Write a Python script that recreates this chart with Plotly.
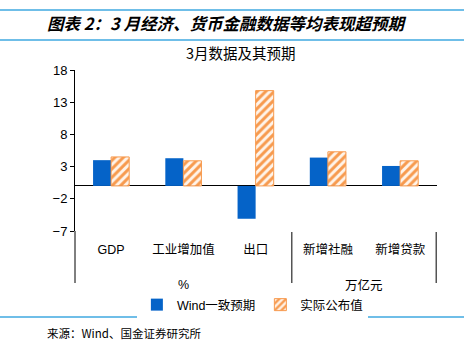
import plotly.graph_objects as go

categories = ["GDP", "工业增加值", "出口", "新增社融", "新增贷款"]
expected = [4.0, 4.3, -5.1, 4.4, 3.1]
actual = [4.5, 3.9, 14.8, 5.3, 3.9]
y_ticks = [-7, -2, 3, 8, 13, 18]
unit_labels = ["%", "万亿元"]
unit_groups = [[0, 1, 2], [3, 4]]

BLUE = "#0563C8"
ORANGE = "#F79A4E"
CJK = "Noto Sans CJK SC"

fig = go.Figure()
fig.add_trace(go.Bar(
    x=categories, y=expected, name="Wind一致预期",
    marker=dict(color=BLUE, line=dict(width=0)),
))
fig.add_trace(go.Bar(
    x=categories, y=actual, name="实际公布值",
    marker=dict(color="#FFE3CC", line=dict(color=ORANGE, width=1),
                pattern=dict(shape="/", fgcolor=ORANGE, bgcolor="#FFF4EA",
                             size=6, solidity=0.5, fillmode="replace")),
))

PW, PH = 362, 161  # plot area size in px

def py(ypix):
    return (231 - ypix) / PH

fig.update_layout(
    width=464, height=340,
    margin=dict(l=75, r=27, t=70, b=109),
    paper_bgcolor="white", plot_bgcolor="white",
    barmode="group", bargap=0.5, bargroupgap=0,
    font=dict(family="Liberation Sans, " + CJK, size=12, color="black"),
    showlegend=True,
    legend=dict(orientation="h", x=0.49, xanchor="center", y=py(290), yanchor="top",
                font=dict(size=12.5, family="Liberation Sans, " + CJK),
                itemwidth=30, traceorder="normal"),
    xaxis=dict(
        type="category", showline=False, ticks="", showgrid=False,
        tickfont=dict(size=12.5, family="Liberation Sans, " + CJK),
        ticklabelstandoff=9,
    ),
    yaxis=dict(
        range=[-7, 18], tickvals=y_ticks, showgrid=False,
        showline=True, linecolor="black", linewidth=1,
        ticks="outside", ticklen=4, tickcolor="black",
        zeroline=True, zerolinecolor="black", zerolinewidth=1.2,
        tickfont=dict(size=13, family="Liberation Sans"),
    ),
)

# header / footer decorations
for yy in [10, 40, 317]:
    fig.add_shape(type="line", xref="paper", yref="paper",
                  x0=-75/PW, x1=(464-75)/PW, y0=py(yy), y1=py(yy),
                  line=dict(color="#3FA9E0", width=1.5))
# y-axis line extension through label area
fig.add_shape(type="line", xref="paper", yref="paper", x0=0, x1=0,
              y0=0, y1=py(283), line=dict(color="black", width=1))
# group dividers and unit labels
for lab, grp in zip(unit_labels, unit_groups):
    end = grp[-1] + 0.5
    fig.add_shape(type="line", xref="x", yref="paper", x0=end, x1=end,
                  y0=py(232), y1=py(283), line=dict(color="#555555", width=1.5))
    fig.add_annotation(text=lab, xref="x", yref="paper", x=sum(grp)/len(grp),
                       y=py(285), xanchor="center", yanchor="middle", showarrow=False,
                       font=dict(size=12.5, family="Liberation Sans, " + CJK))

fig.add_annotation(text="<b><i>图表 2：3 月经济、货币金融数据等均表现超预期</i></b>",
                   xref="paper", yref="paper", x=(45-75)/PW, y=py(23),
                   xanchor="left", yanchor="middle", showarrow=False,
                   font=dict(size=16.5, family=CJK, color="black"))
fig.add_annotation(text="3月数据及其预期",
                   xref="paper", yref="paper", x=(241-75)/PW, y=py(53),
                   xanchor="center", yanchor="middle", showarrow=False,
                   font=dict(size=14.5, family=CJK, color="black"))
fig.add_annotation(text="来源：Wind、国金证券研究所",
                   xref="paper", yref="paper", x=(45-75)/PW, y=py(333),
                   xanchor="left", yanchor="middle", showarrow=False,
                   font=dict(size=11.5, family=CJK, color="black"))

fig.write_html("out.html")
